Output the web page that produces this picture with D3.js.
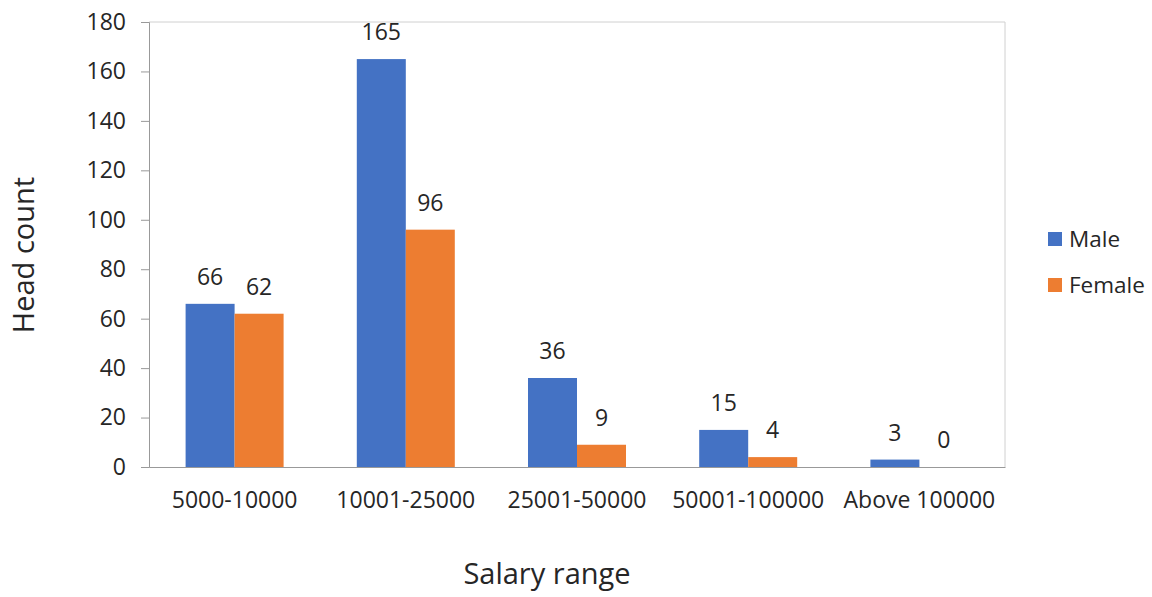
<!DOCTYPE html>
<html><head><meta charset="utf-8">
<script src="https://cdn.jsdelivr.net/npm/d3@7"></script>
<style>body{margin:0;background:#fff}svg{display:block}text{font-family:"Open Sans",sans-serif;fill:#262626}</style>
</head><body>
<svg id="c" width="1152" height="597"></svg>
<script>
const categories = ["5000-10000","10001-25000","25001-50000","50001-100000","Above 100000"];
const male = [66,165,36,15,3];
const female = [62,96,9,4,0];
const seriesNames = ["Male","Female"];
const colors = ["#4472C4","#ED7D31"];
const yTicks = [0,20,40,60,80,100,120,140,160,180];

const svg = d3.select("#c");
const L=149,R=1005,T=22,B=467;
const x = d3.scaleBand().domain(categories).range([L,R]).paddingInner(0).paddingOuter(0);
const x1 = d3.scaleBand().domain(seriesNames).range([0,x.bandwidth()]).paddingInner(0).paddingOuter(0.747);
const y = d3.scaleLinear().domain([0,180]).range([B,T]);

// frame
svg.append("path").attr("d",`M${L},${T}H${R}V${B}`).attr("fill","none").attr("stroke","#d0d0d0");

const series = [male,female];
series.forEach((vals,si)=>{
  svg.append("g").selectAll("rect").data(categories).join("rect")
    .attr("x",d=>x(d)+x1(seriesNames[si]))
    .attr("y",(d,i)=>y(vals[i]))
    .attr("width",x1.bandwidth())
    .attr("height",(d,i)=>B-y(vals[i]))
    .attr("fill",colors[si]);
  svg.append("g").selectAll("text").data(categories).join("text")
    .attr("x",d=>x(d)+x1(seriesNames[si])+x1.bandwidth()/2)
    .attr("y",(d,i)=>y(vals[i])-19)
    .attr("text-anchor","middle").attr("font-size",23)
    .text((d,i)=>vals[i]);
});

const ya = svg.append("g").attr("transform",`translate(${L},0)`)
  .call(d3.axisLeft(y).tickValues(yTicks).tickSize(8).tickPadding(15));
ya.select(".domain").attr("stroke","#999");
ya.selectAll(".tick line").attr("stroke","#999");
ya.selectAll("text").attr("font-size",23).attr("font-family","Open Sans").attr("fill","#262626");

const xa = svg.append("g").attr("transform",`translate(0,${B})`)
  .call(d3.axisBottom(x).tickSize(0).tickPadding(25));
xa.select(".domain").attr("stroke","#999");
xa.selectAll("text").attr("font-size",23).attr("font-family","Open Sans").attr("fill","#262626");

svg.append("text").attr("x",547).attr("y",584).attr("text-anchor","middle").attr("font-size",29).text("Salary range");
svg.append("text").attr("transform",`translate(34,255) rotate(-90)`).attr("text-anchor","middle").attr("font-size",29).text("Head count");

const lg = svg.append("g");
seriesNames.forEach((n,i)=>{
  lg.append("rect").attr("x",1048).attr("y",232+i*46).attr("width",14).attr("height",14).attr("fill",colors[i]);
  lg.append("text").attr("x",1069).attr("y",247+i*46).attr("font-size",22.5).text(n);
});
</script>
</body></html>
